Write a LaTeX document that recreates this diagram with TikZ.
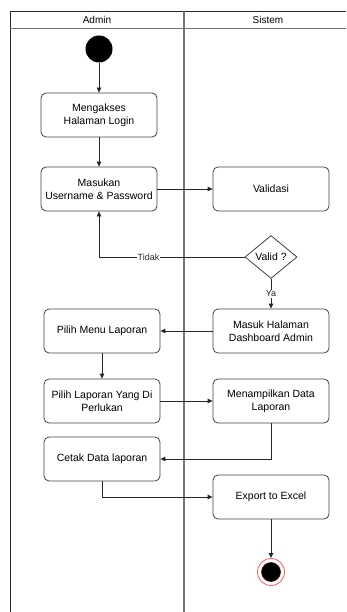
\documentclass[tikz,border=0pt]{standalone}
\usepackage{fontspec}
\setmainfont{Liberation Sans}
\usepackage{xcolor}
\usetikzlibrary{shapes, shapes.geometric, arrows.meta, positioning, calc}

\begin{document}
\begin{tikzpicture}[
        x=1pt, y=-1pt,
        >={Triangle[length=5pt, width=4.5pt]},
        activity/.style={
            rectangle,
            draw=black!75,
            line width=0.8pt,
            rounded corners=5pt,
            minimum width=116pt,
            minimum height=44pt,
            align=center,
            font=\fontsize{10.5}{13}\selectfont
        },
        decision/.style={
            diamond,
            draw=black!75,
            line width=0.8pt,
            minimum width=52pt,
            minimum height=43pt,
            inner sep=0pt,
            font=\fontsize{10.5}{13}\selectfont
        },
        flow/.style={->, line width=0.8pt, black!85},
        guard/.style={fill=white, inner sep=1pt, font=\fontsize{9}{11}\selectfont},
        lane/.style={font=\fontsize{10}{12}\selectfont}
    ]
        \useasboundingbox (0,0) rectangle (346,612);

        % Lanes
        \draw[black!85, line width=0.8pt] (10,612) -- (10,11) -- (346,11);
        \draw[black!55, line width=0.8pt] (10,28) -- (346,28);
        \draw[black!55, line width=1.3pt] (184,11) -- (184,612);
        \node[lane] (admin) at (97,19.5) {Admin};
        \node[lane] (sistem) at (268,19.5) {Sistem};

        % States
        \node[circle, fill=black, minimum size=27pt, inner sep=0pt] (start) at (99,49) {};
        \node[activity] (login) at (99,115) {Mengakses\\Halaman Login};
        \node[activity] (masukan) at (99,189) {Masukan\\Username \& Password};
        \node[activity, right of=masukan, node distance=172pt] (validasi) {Validasi};
        \node[decision] (valid) at (271,257) {Valid ?};
        \node[activity] (dashboard) at (271,331) {Masuk Halaman\\Dashboard Admin};
        \node[activity] (menu) at (102,331) {Pilih Menu Laporan};
        \node[activity] (pilih) at (102,401) {Pilih Laporan Yang Di\\Perlukan};
        \node[activity] (tampil) at (271,401) {Menampilkan Data\\Laporan};
        \node[activity] (cetak) at (102,459) {Cetak Data laporan};
        \node[activity] (export) at (271,497) {Export to Excel};
        \node[circle, draw=red!60, line width=0.9pt, minimum size=27pt, inner sep=0pt] (finish) at (271,572) {};
        \node[circle, fill=black, draw=red!35!black, line width=0.6pt, minimum size=19pt, inner sep=0pt] (finishdot) at (finish) {};

        % Transitions
        \draw[flow] (start) -- (login);
        \draw[flow] (login) -- (masukan);
        \draw[flow] (masukan) -- (validasi);
        \draw[flow] (valid.west) -| node[guard, pos=0.33] {Tidak} (masukan.south);
        \draw[flow] (valid.south) -- node[guard] {Ya} (dashboard.north);
        \draw[flow] (dashboard) -- (menu);
        \draw[flow] (menu) -- (pilih);
        \draw[flow] (pilih) -- (tampil);
        \draw[flow] (tampil.south) |- (cetak.east);
        \draw[flow] (cetak.south) |- (export.west);
        \draw[flow] (export.south) -- (finish.north);

    \end{tikzpicture}
\end{document}
